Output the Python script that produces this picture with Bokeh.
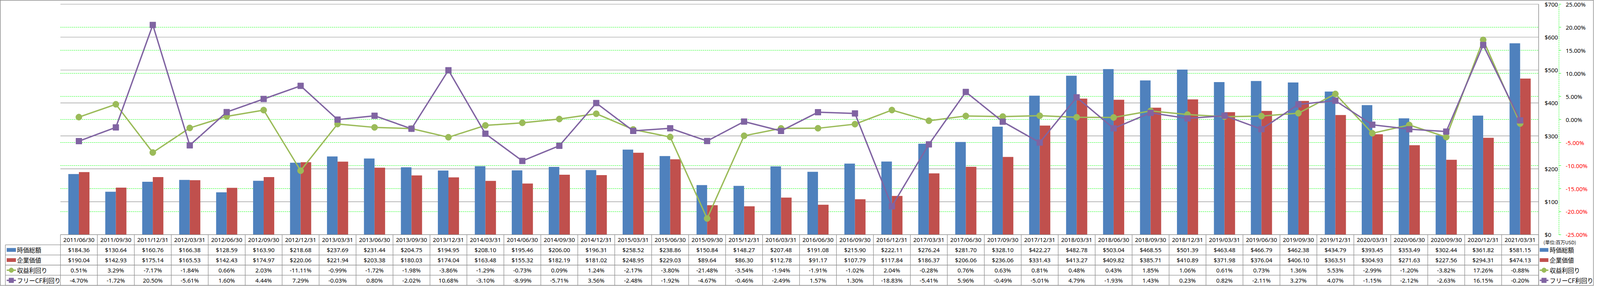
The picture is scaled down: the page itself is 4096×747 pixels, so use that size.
from bokeh.plotting import figure
from bokeh.models import Range1d, ColumnDataSource
from bokeh.core.properties import value
from bokeh.transform import dodge
from bokeh.embed import file_html
from bokeh.resources import INLINE

# ---------------- data ----------------
dates = ["2011/06/30", "2011/09/30", "2011/12/31", "2012/03/31", "2012/06/30", "2012/09/30",
         "2012/12/31", "2013/03/31", "2013/06/30", "2013/09/30", "2013/12/31", "2014/03/31",
         "2014/06/30", "2014/09/30", "2014/12/31", "2015/03/31", "2015/06/30", "2015/09/30",
         "2015/12/31", "2016/03/31", "2016/06/30", "2016/09/30", "2016/12/31", "2017/03/31",
         "2017/06/30", "2017/09/30", "2017/12/31", "2018/03/31", "2018/06/30", "2018/09/30",
         "2018/12/31", "2019/03/31", "2019/06/30", "2019/09/30", "2019/12/31", "2020/03/31",
         "2020/06/30", "2020/09/30", "2020/12/31", "2021/03/31"]
market_cap = [184.36, 130.64, 160.76, 166.38, 128.59, 163.90, 218.68, 237.69, 231.44, 204.75,
              194.95, 208.10, 195.46, 206.00, 196.31, 258.52, 238.86, 150.84, 148.27, 207.48,
              191.08, 215.90, 222.11, 276.24, 281.70, 328.10, 422.27, 482.78, 503.04, 468.55,
              501.39, 463.48, 466.79, 462.38, 434.79, 393.45, 353.49, 302.44, 361.82, 581.15]
enterprise_value = [190.04, 142.93, 175.14, 165.53, 142.43, 174.97, 220.06, 221.94, 203.38, 180.03,
                    174.04, 163.48, 155.32, 182.19, 181.02, 248.95, 229.03, 89.64, 86.30, 112.78,
                    91.17, 107.79, 117.84, 186.37, 206.06, 236.06, 331.43, 413.27, 409.82, 385.71,
                    410.89, 371.98, 376.04, 406.10, 363.51, 304.93, 271.63, 227.56, 294.31, 474.13]
earnings_yield = [0.51, 3.29, -7.17, -1.84, 0.66, 2.03, -11.11, -0.99, -1.72, -1.98,
                  -3.86, -1.29, -0.73, 0.09, 1.24, -2.17, -3.80, -21.48, -3.54, -1.94,
                  -1.91, -1.02, 2.04, -0.28, 0.76, 0.63, 0.81, 0.48, 0.43, 1.85,
                  1.06, 0.61, 0.73, 1.36, 5.53, -2.99, -1.20, -3.82, 17.26, -0.88]
fcf_yield = [-4.70, -1.72, 20.50, -5.61, 1.60, 4.44, 7.29, -0.03, 0.80, -2.02,
             10.68, -3.10, -8.99, -5.71, 3.56, -2.48, -1.92, -4.67, -0.46, -2.49,
             1.57, 1.30, -18.83, -5.41, 5.96, -0.49, -5.01, 4.79, -1.93, 1.43,
             0.23, 0.82, -2.11, 3.27, 4.07, -1.15, -2.12, -2.63, 16.15, -0.20]
series_names = ["時価総額", "企業価値", "収益利回り", "フリーCF利回り"]
usd_ticks = [0, 100, 200, 300, 400, 500, 600, 700]
pct_ticks = [-25, -20, -15, -10, -5, 0, 5, 10, 15, 20, 25]
unit_label = "(単位:百万USD)"

# ---------------- styles ----------------
BLUE, RED, GREEN, PURPLE = "#4F81BD", "#C0504D", "#9BBB59", "#8064A2"
GRAY = "#8C8C8C"
LIME = "#00FF00"
NUM_FONT = value("Noto Sans")
JP_FONT = value("Noto Sans CJK JP")

# geometry in reference pixels, mapped through the figure's ranges
RW, RH = 5876.0, 1071.0
W, H = 4080, 731
CAT0, CATW = 222.0, 136.25
PLOT_R = 5672.0
Y0, YTOP = 879.0, 15.0
upx = (Y0 - YTOP) / 700.0
ppx = (Y0 - YTOP) / 50.0


def X(px):
    return (px - CAT0) / CATW - 0.5


def YU(px):
    return (Y0 - px) / upx


def YP(px):
    return -25.0 + (Y0 - px) / ppx


n = len(dates)
idx = list(range(n))

p = figure(width=W, height=H, output_backend="svg", toolbar_location=None,
           x_range=Range1d(X(0), X(RW)), y_range=Range1d(YU(RH), YU(0)),
           x_axis_type=None, y_axis_type=None, min_border=0,
           background_fill_color="white", border_fill_color="white",
           outline_line_color=GRAY, outline_line_width=2)
p.extra_y_ranges = {"pct": Range1d(YP(RH), YP(0))}
p.grid.visible = False

xl, xr = X(CAT0), X(PLOT_R)

# green dashed % gridlines
g = [t for t in pct_ticks if -25 < t < 25]
p.segment(x0=[xl] * len(g), x1=[xr] * len(g), y0=g, y1=g, y_range_name="pct",
          line_color=LIME, line_width=1, line_dash="3 2")
# gray $ gridlines
p.segment(x0=[xl] * len(usd_ticks), x1=[xr] * len(usd_ticks), y0=usd_ticks, y1=usd_ticks,
          line_color=GRAY, line_width=1.2)

# bars
src = ColumnDataSource(dict(idx=idx, mc=market_cap, ev=enterprise_value,
                            ey=earnings_yield, fy=fcf_yield))
BW = 39.0 / CATW
p.vbar(x=dodge("idx", -BW / 2, range=p.x_range), top="mc", bottom=0, width=BW,
       source=src, fill_color=BLUE, line_color=None)
p.vbar(x=dodge("idx", BW / 2, range=p.x_range), top="ev", bottom=0, width=BW,
       source=src, fill_color=RED, line_color=None)

# lines
p.line("idx", "ey", source=src, y_range_name="pct", line_color=GREEN, line_width=3.5)
p.scatter("idx", "ey", source=src, y_range_name="pct", marker="circle", size=16,
          fill_color=GREEN, line_color=GREEN)
p.line("idx", "fy", source=src, y_range_name="pct", line_color=PURPLE, line_width=3.5)
p.scatter("idx", "fy", source=src, y_range_name="pct", marker="square", size=15,
          fill_color=PURPLE, line_color=PURPLE)

# right-hand $ axis: axis line and labels
p.segment(x0=[xr], x1=[xr], y0=[YU(YTOP)], y1=[YU(1069)], line_color=GRAY, line_width=1.5)
p.text(x=[X(5694)] * len(usd_ticks), y=usd_ticks, text=[f"${t}" for t in usd_ticks],
       text_align="left", text_baseline="middle", text_font=NUM_FONT,
       text_font_size="15px", text_color="black")

# right-hand % axis: dashed green axis line, ticks, labels
ax = X(5747)
p.segment(x0=[ax], x1=[ax], y0=[-25], y1=[25], y_range_name="pct",
          line_color=LIME, line_width=1, line_dash="3 2")
p.segment(x0=[ax] * len(pct_ticks), x1=[X(5755)] * len(pct_ticks), y0=pct_ticks, y1=pct_ticks,
          y_range_name="pct", line_color=LIME, line_width=1)
p.text(x=[X(5772)] * len(pct_ticks), y=pct_ticks, text=[f"{t:.2f}%" for t in pct_ticks],
       y_range_name="pct", text_align="left", text_baseline="middle", text_font=NUM_FONT,
       text_font_size="15px", text_color=["red" if t < 0 else "black" for t in pct_ticks])

p.text(x=[X(5690)], y=[YU(907)], text=[unit_label], text_align="left", text_baseline="middle",
       text_font=JP_FONT, text_font_size="12px", text_color="black")

# ---------------- data table ----------------
row_lines = [917, 955, 993, 1031, 1069]
row_centers = [936, 974, 1012, 1050]
# horizontal lines
p.segment(x0=[xl], x1=[xr], y0=[YU(Y0)], y1=[YU(Y0)], line_color=GRAY, line_width=1.3)
p.segment(x0=[X(19)] * len(row_lines), x1=[xr] * len(row_lines),
          y0=[YU(r) for r in row_lines], y1=[YU(r) for r in row_lines],
          line_color=GRAY, line_width=1.3)
# vertical lines
vx = [i - 0.5 for i in range(n + 1)]
p.segment(x0=vx, x1=vx, y0=[YU(Y0)] * len(vx), y1=[YU(1069)] * len(vx),
          line_color=GRAY, line_width=1.3)
p.segment(x0=[X(19)], x1=[X(19)], y0=[YU(917)], y1=[YU(1069)], line_color=GRAY, line_width=1.3)

# header
p.text(x=idx, y=[YU(898)] * n, text=dates, text_align="center", text_baseline="middle",
       text_font=NUM_FONT, text_font_size="15px", text_color="black")
rows = [[f"${v:.2f}" for v in market_cap],
        [f"${v:.2f}" for v in enterprise_value],
        [f"{v:.2f}%" for v in earnings_yield],
        [f"{v:.2f}%" for v in fcf_yield]]
for r, labels in enumerate(rows):
    p.text(x=idx, y=[YU(row_centers[r])] * n, text=labels, text_align="center",
           text_baseline="middle", text_font=NUM_FONT, text_font_size="15px", text_color="black")


def legend_keys(x_left, x_right, x_text):
    cx = (x_left + x_right) / 2
    ys = [YU(c) for c in row_centers]
    wk = X(x_right) - X(x_left)
    p.rect(x=[X(cx)] * 2, y=ys[:2], width=wk, height=14 / upx,
           fill_color=[BLUE, RED], line_color=None)
    for k, col, mk in ((2, GREEN, "circle"), (3, PURPLE, "square")):
        p.segment(x0=[X(x_left)], x1=[X(x_right)], y0=[ys[k]], y1=[ys[k]],
                  line_color=col, line_width=3.5)
        p.scatter(x=[X(cx)], y=[ys[k]], marker=mk, size=12, fill_color=col, line_color=col)
    p.text(x=[X(x_text)] * 4, y=ys, text=series_names, text_align="left",
           text_baseline="middle", text_font=JP_FONT, text_font_size="15.5px",
           text_color="black")


legend_keys(24, 58, 62)          # row headers of the table
legend_keys(5676, 5708, 5713)    # legend at the right

open("out.html", "w").write(file_html(p, INLINE))
